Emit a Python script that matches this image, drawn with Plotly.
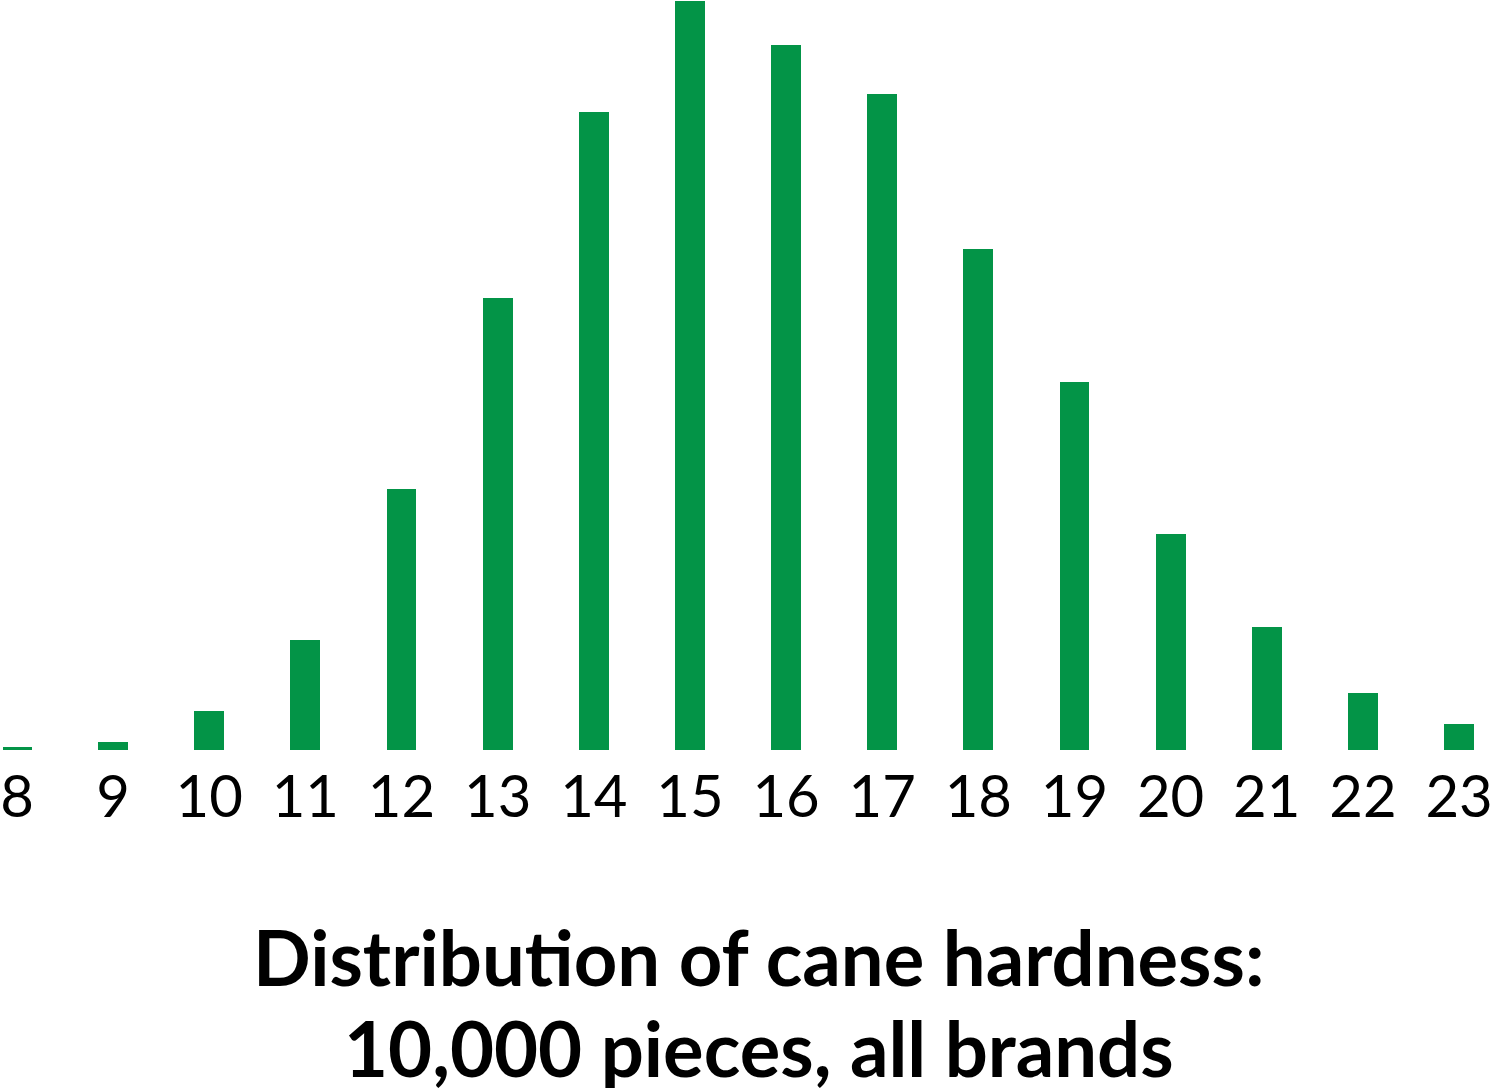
import plotly.graph_objects as go

hardness = [8, 9, 10, 11, 12, 13, 14, 15, 16, 17, 18, 19, 20, 21, 22, 23]
counts = [6, 16, 79, 224, 531, 920, 1299, 1525, 1435, 1335, 1020, 749, 440, 250, 116, 53]
tick_labels = [str(h) for h in hardness]
title_line1 = ["Distribut", "ion of cane hardness:"]
title_line2 = "10,000 pieces, all brands"

green = "#039447"

fig = go.Figure()
fig.add_trace(go.Bar(x=hardness, y=counts, width=0.31, marker=dict(color=green, line=dict(width=0))))

fig.update_layout(
    width=1500, height=1088,
    margin=dict(l=0, r=0, t=0, b=338),
    paper_bgcolor="white", plot_bgcolor="white",
    showlegend=False,
    font=dict(family="Lato", color="black"),
    bargap=0,
)
fig.update_xaxes(
    range=[7.855, 23.426],
    tickvals=hardness, ticktext=tick_labels,
    tickfont=dict(family="Lato", size=58, color="black"),
    showgrid=False, zeroline=False, showline=False, ticks="",
    ticklabelstandoff=8, ticklabeloverflow="allow",
)
fig.update_yaxes(range=[0, 1527], visible=False, showgrid=False, zeroline=False)

fig.add_annotation(text="".join("<b>" + s + "</b>" for s in title_line1), xref="paper", yref="paper",
                   x=0.505, y=-0.275, yanchor="middle", xanchor="center", showarrow=False,
                   font=dict(family="Lato", size=76, color="black"))
fig.add_annotation(text="<b>" + title_line2 + "</b>", xref="paper", yref="paper",
                   x=0.505, y=-0.396, yanchor="middle", xanchor="center", showarrow=False,
                   font=dict(family="Lato", size=76, color="black"))

fig.write_html("out.html", config={"displayModeBar": False},
               post_script="document.body.style.margin='0';")
